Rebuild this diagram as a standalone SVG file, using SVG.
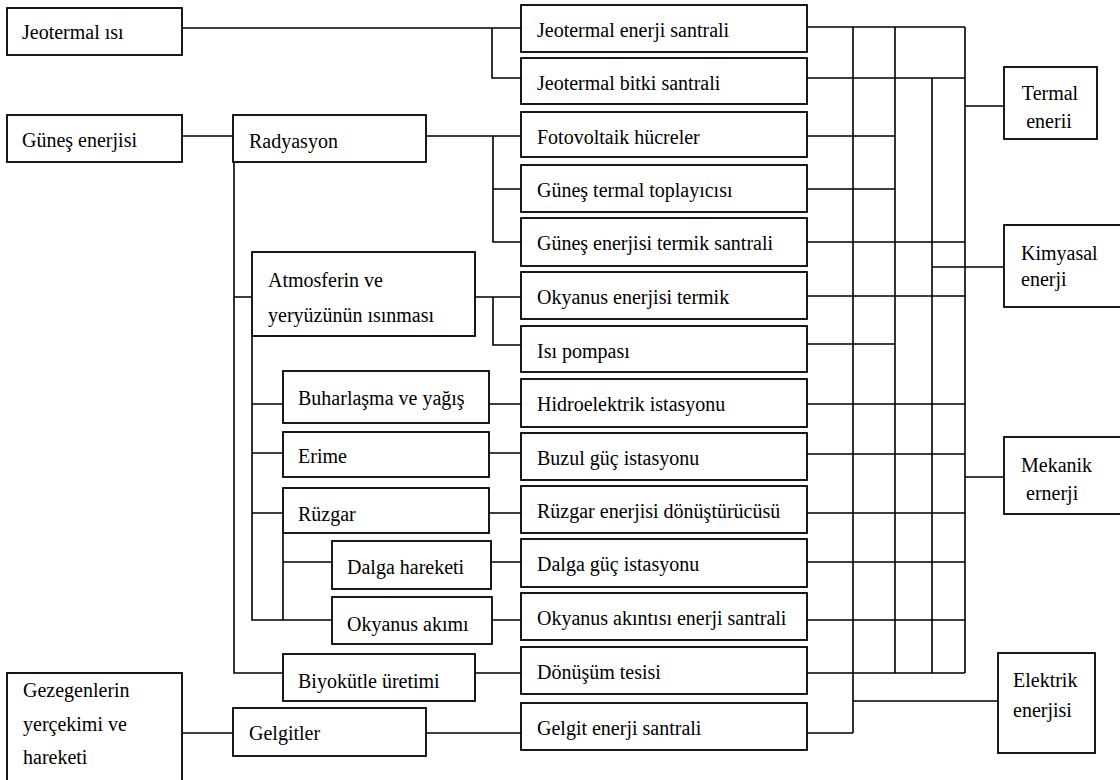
<svg xmlns="http://www.w3.org/2000/svg" width="1120" height="780" viewBox="0 0 1120 780">
<style>
.b{fill:#fff;stroke:#000;stroke-width:1.8}
.t{font-family:"Liberation Serif","Times New Roman",serif;font-size:20px;fill:#000}
.c{fill:none;stroke:#000;stroke-width:1.6}
</style>
<rect width="1120" height="780" fill="#fff"/>
<g id="connectors" class="c">
<!-- left side -->
<path d="M182 28H521M492 28V78H521"/>
<path d="M182 136H233M426 136H521M493 136V242H521M493 189H521"/>
<path d="M234 162V673H283M234 297H252"/>
<path d="M475 297H521M493 297V345H521"/>
<path d="M252 336V620H332M252 404H283M252 453H283M252 513H283"/>
<path d="M283 533V620M283 562H332"/>
<path d="M489 404H521M489 453H521M489 513H521M491 562H521M492 620H521M475 673H521"/>
<path d="M182 733H233M426 733H521"/>
<!-- right side -->
<path d="M807 27H965M807 78H965M807 136H895M807 189H895M807 242H965M807 296H965M807 344H895M807 404H965M807 454H965M807 513H965M807 562H965M807 620H965M807 673H965M807 733H853"/>
<path d="M853 27V733M895 27V673M932 78V673M965 27V673"/>
<path d="M965 106H1004M932 267H1004M965 477H1004M853 701H998"/>
</g>
<g id="n-jeotermal-isi"><rect class="b" x="7" y="8" width="175" height="47"/><text class="t" x="22" y="39">Jeotermal ısı</text></g>
<g id="n-gunes-enerjisi"><rect class="b" x="7" y="115" width="175" height="47"/><text class="t" x="22" y="147">Güneş enerjisi</text></g>
<g id="n-gezegenler"><rect class="b" x="7" y="673" width="175" height="120"/><text class="t" x="23" y="697">Gezegenlerin</text><text class="t" x="23" y="731">yerçekimi ve</text><text class="t" x="23" y="764">hareketi</text></g>
<g id="n-radyasyon"><rect class="b" x="233" y="115" width="193" height="47"/><text class="t" x="249" y="148">Radyasyon</text></g>
<g id="n-atmosfer"><rect class="b" x="252" y="252" width="223" height="84"/><text class="t" x="268" y="287">Atmosferin ve</text><text class="t" x="268" y="322">yeryüzünün ısınması</text></g>
<g id="n-buharlasma"><rect class="b" x="283" y="371" width="206" height="52"/><text class="t" x="298" y="405">Buharlaşma ve yağış</text></g>
<g id="n-erime"><rect class="b" x="283" y="432" width="206" height="45"/><text class="t" x="298" y="463">Erime</text></g>
<g id="n-ruzgar"><rect class="b" x="283" y="488" width="206" height="45"/><text class="t" x="298" y="521">Rüzgar</text></g>
<g id="n-dalga"><rect class="b" x="332" y="541" width="159" height="48"/><text class="t" x="347" y="574">Dalga hareketi</text></g>
<g id="n-okyanus-akimi"><rect class="b" x="332" y="597" width="160" height="47"/><text class="t" x="347" y="631">Okyanus akımı</text></g>
<g id="n-biyokutle"><rect class="b" x="283" y="654" width="192" height="47"/><text class="t" x="298" y="688">Biyokütle üretimi</text></g>
<g id="n-gelgitler"><rect class="b" x="233" y="708" width="193" height="48"/><text class="t" x="249" y="740">Gelgitler</text></g>
<g id="n-r0"><rect class="b" x="521" y="5" width="286" height="47"/><text class="t" x="537" y="37">Jeotermal enerji santrali</text></g>
<g id="n-r1"><rect class="b" x="521" y="58" width="286" height="46"/><text class="t" x="537" y="90">Jeotermal bitki santrali</text></g>
<g id="n-r2"><rect class="b" x="521" y="112" width="286" height="45"/><text class="t" x="537" y="144">Fotovoltaik hücreler</text></g>
<g id="n-r3"><rect class="b" x="521" y="165" width="286" height="47"/><text class="t" x="537" y="197">Güneş termal toplayıcısı</text></g>
<g id="n-r4"><rect class="b" x="521" y="218" width="286" height="48"/><text class="t" x="537" y="250">Güneş enerjisi termik santrali</text></g>
<g id="n-r5"><rect class="b" x="521" y="272" width="286" height="47"/><text class="t" x="537" y="304">Okyanus enerjisi termik</text></g>
<g id="n-r6"><rect class="b" x="521" y="326" width="286" height="46"/><text class="t" x="537" y="358">Isı pompası</text></g>
<g id="n-r7"><rect class="b" x="521" y="379" width="286" height="48"/><text class="t" x="537" y="411">Hidroelektrik istasyonu</text></g>
<g id="n-r8"><rect class="b" x="521" y="433" width="286" height="47"/><text class="t" x="537" y="465">Buzul güç istasyonu</text></g>
<g id="n-r9"><rect class="b" x="521" y="486" width="286" height="47"/><text class="t" x="537" y="518">Rüzgar enerjisi dönüştürücüsü</text></g>
<g id="n-r10"><rect class="b" x="521" y="539" width="286" height="48"/><text class="t" x="537" y="571">Dalga güç istasyonu</text></g>
<g id="n-r11"><rect class="b" x="521" y="593" width="286" height="47"/><text class="t" x="537" y="625">Okyanus akıntısı enerji santrali</text></g>
<g id="n-r12"><rect class="b" x="521" y="647" width="286" height="47"/><text class="t" x="537" y="679">Dönüşüm tesisi</text></g>
<g id="n-r13"><rect class="b" x="521" y="703" width="286" height="47"/><text class="t" x="537" y="735">Gelgit enerji santrali</text></g>
<g id="n-termal"><rect class="b" x="1004" y="67" width="93" height="72"/><text class="t" x="1050" y="100" text-anchor="middle">Termal</text><text class="t" x="1049" y="128" text-anchor="middle">enerii</text></g>
<g id="n-kimyasal"><rect class="b" x="1004" y="225" width="125" height="82"/><text class="t" x="1021" y="260">Kimyasal</text><text class="t" x="1021" y="286">enerji</text></g>
<g id="n-mekanik"><rect class="b" x="1004" y="437" width="125" height="77"/><text class="t" x="1021" y="472">Mekanik</text><text class="t" x="1021" y="500" xml:space="preserve"> ernerji</text></g>
<g id="n-elektrik"><rect class="b" x="998" y="653" width="97" height="100"/><text class="t" x="1013" y="687">Elektrik</text><text class="t" x="1013" y="717">enerjisi</text></g>
</svg>
